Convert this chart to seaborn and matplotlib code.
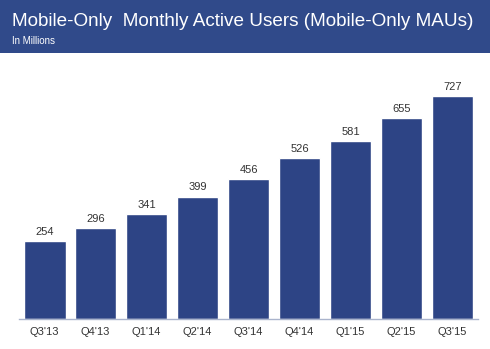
import matplotlib
matplotlib.use("Agg")
import matplotlib.pyplot as plt
from matplotlib.patches import Rectangle
import seaborn as sns
import pandas as pd

quarters = ["Q3'13", "Q4'13", "Q1'14", "Q2'14", "Q3'14", "Q4'14", "Q1'15", "Q2'15", "Q3'15"]
maus = [254, 296, 341, 399, 456, 526, 581, 655, 727]

title = "Mobile-Only  Monthly Active Users (Mobile-Only MAUs)"
subtitle = "In Millions"

BAR = "#2d4485"
HEADER = "#304a8a"
TXT = "#333333"

sns.set_theme(style="white")
plt.rcParams['font.family'] = ['Liberation Sans', 'DejaVu Sans']

df = pd.DataFrame({"quarter": quarters, "maus": maus})

fig = plt.figure(figsize=(4.9, 3.49), dpi=100)
fig.patch.set_facecolor("white")
fig.patches.append(Rectangle((0, 0.848), 1, 0.152, transform=fig.transFigure,
                             facecolor=HEADER, edgecolor="none", zorder=0))
fig.text(0.024, 0.925, title, color="white", fontsize=13.6, va="baseline", ha="left")
fig.text(0.024, 0.874, subtitle, color="white", fontsize=7, va="baseline", ha="left")

ax = fig.add_axes([0.039, 0.086, 0.9365, 0.703])
sns.barplot(data=df, x="quarter", y="maus", color=BAR, saturation=1, width=0.82, ax=ax)
ax.set_xlim(-0.5, 8.5)
ax.set_ylim(0, 800)
for c in ax.containers:
    ax.bar_label(c, labels=[str(v) for v in maus], padding=3, fontsize=8, color=TXT)
ax.set_xlabel("")
ax.set_ylabel("")
ax.set_yticks([])
ax.tick_params(axis="x", length=0, pad=6, labelsize=8, labelcolor=TXT)
for s in ["top", "right", "left"]:
    ax.spines[s].set_visible(False)
ax.spines["bottom"].set_color("#aab4cc")
ax.spines["bottom"].set_linewidth(1)
ax.set_facecolor("none")

fig.savefig("out.png", dpi=100, facecolor="white")
